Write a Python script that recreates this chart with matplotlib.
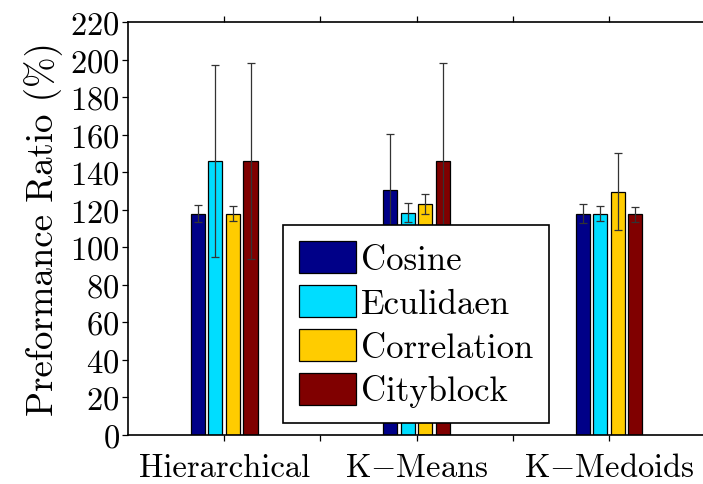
import matplotlib
matplotlib.use('Agg')
import matplotlib.pyplot as plt
import numpy as np

# data
groups = ['Hierarchical', 'K$-$Means', 'K$-$Medoids']
series = ['Cosine', 'Eculidaen', 'Correlation', 'Cityblock']
cosine = [118, 130.5, 118]
eculidaen = [146, 118.5, 118]
correlation = [118, 123, 129.5]
cityblock = [146, 146, 117.5]
cosine_err = [4.5, 30, 5]
eculidaen_err = [51, 5, 4]
correlation_err = [4, 5.5, 20.5]
cityblock_err = [52, 52, 4]
colors = ['#000088', '#00DDFF', '#FFCC00', '#800000']

plt.rcParams['font.family'] = 'cmr10'
plt.rcParams['mathtext.fontset'] = 'cm'
plt.rcParams['axes.unicode_minus'] = False
plt.rcParams['axes.formatter.use_mathtext'] = True

fig = plt.figure(figsize=(7.03, 4.85), dpi=100)
ax = fig.add_axes([0.182, 0.101, 0.821, 0.8515])

values = [cosine, eculidaen, correlation, cityblock]
errors = [cosine_err, eculidaen_err, correlation_err, cityblock_err]
x = np.arange(1, len(groups) + 1)
step = 0.0914
width = 0.073

for k in range(len(series)):
    pos = x + (k - 1.5) * step
    ax.bar(pos, values[k], width, color=colors[k], edgecolor='black',
           linewidth=0.9, label=series[k], zorder=2)
    ax.errorbar(pos, values[k], yerr=errors[k], fmt='none', ecolor='0.2',
                elinewidth=0.9, capsize=3, capthick=0.9, zorder=3)

ax.set_xlim(0.5, 3.5)
ax.set_ylim(0, 220)
ax.set_yticks(np.arange(0, 221, 20))
ax.set_xticks([1, 1.5, 2, 2.5, 3])
ax.set_xticklabels([groups[0], '', groups[1], '', groups[2]])
ax.tick_params(axis='x', top=True, direction='out', length=4, width=0.9,
               labelsize=23.5, pad=9)
ax.tick_params(axis='y', direction='out', length=4, width=0.9, labelsize=23.5, pad=2)
ax.spines['right'].set_visible(False)
for s in ['left', 'bottom', 'top']:
    ax.spines[s].set_linewidth(1.2)
ax.set_ylabel('Preformance Ratio (%)', fontsize=26.5, labelpad=5)

leg = ax.legend(loc='lower left', bbox_to_anchor=(0.269, 0.029), fontsize=25,
                frameon=True, fancybox=False, edgecolor='black', framealpha=1,
                handlelength=1.64, handleheight=1.04, handletextpad=0.15,
                labelspacing=0.26, borderpad=0.45, borderaxespad=0)
leg.get_frame().set_linewidth(1.2)

fig.savefig('out.png', dpi=100)
